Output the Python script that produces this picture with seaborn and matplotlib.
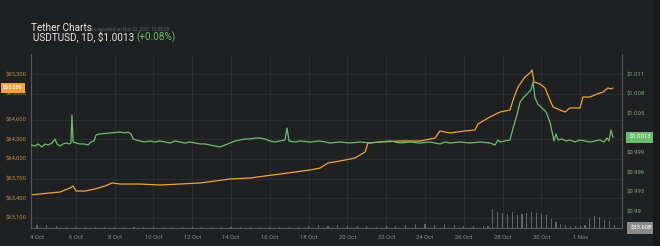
import matplotlib
matplotlib.use("Agg")
import matplotlib.pyplot as plt
import seaborn as sns
import pandas as pd
from matplotlib.patches import Rectangle

# ---------------- data ----------------
tick_days = [0, 2, 4, 6, 8, 10, 12, 14, 16, 18, 20, 22, 24, 26, 28]
tick_labels = ["4 Oct", "6 Oct", "8 Oct", "10 Oct", "12 Oct", "14 Oct", "16 Oct",
               "18 Oct", "20 Oct", "22 Oct", "24 Oct", "26 Oct", "28 Oct", "30 Oct", "1 Nov"]

left_ticks = [63100, 63400, 63700, 64000, 64300, 64600, 65000, 65300]
left_tick_labels = ["$63,100", "$63,400", "$63,700", "$64,000", "$64,300", "$64,600", "$65,000", "$65,300"]
right_ticks = [0.99, 0.993, 0.996, 0.999, 1.005, 1.008, 1.011]
right_tick_labels = ["$0.99", "$0.993", "$0.996", "$0.999", "$1.005", "$1.008", "$1.011"]

# price (green, right axis)
price_days = [
    -0.31, -0.10, 0.05, 0.26, 0.41, 0.57, 0.77, 0.93, 1.03, 1.19,
    1.34, 1.49, 1.65, 1.75, 1.80, 1.86, 2.01, 2.22, 2.42, 2.63,
    2.78, 2.94, 3.04, 3.25, 3.76, 4.28, 4.54, 4.69, 4.85, 4.95,
    5.10, 5.31, 5.57, 5.82, 6.08, 6.34, 6.60, 6.86, 7.11, 7.37,
    7.63, 7.89, 8.14, 8.40, 8.66, 8.92, 9.18, 9.43, 9.69, 9.95,
    10.21, 10.46, 10.72, 10.98, 11.24, 11.49, 11.75, 12.01, 12.27, 12.53,
    12.78, 12.89, 12.99, 13.30, 13.56, 14.07, 14.59, 15.10, 15.62, 16.13,
    16.65, 17.16, 17.68, 18.20, 18.71, 19.23, 19.74, 20.26, 20.77, 21.03,
    21.29, 21.80, 22.32, 22.84, 23.35, 23.61, 23.76, 23.87, 24.12, 24.38,
    24.54, 24.74, 24.90, 25.10, 25.31, 25.46, 25.57, 25.67, 25.82, 26.03,
    26.24, 26.44, 26.55, 26.65, 26.75, 26.86, 27.06, 27.27, 27.47, 27.73,
    27.99, 28.25, 28.51, 28.76, 29.02, 29.23, 29.38, 29.48, 29.59, 29.69,
]
price = [
    1.00013, 0.99998, 1.00029, 0.99983, 1.00029, 1.00013, 1.00044, 1.00105, 1.00029, 0.99998,
    1.00029, 1.00044, 1.00029, 1.00044, 1.00472, 1.00059, 1.00044, 1.00029, 1.00029, 1.00013,
    1.00059, 1.00075, 1.00166, 1.00182, 1.00197, 1.00212, 1.00197, 1.00212, 1.00182, 1.00105,
    1.00090, 1.00075, 1.00059, 1.00075, 1.00059, 1.00075, 1.00059, 1.00044, 1.00075, 1.00059,
    1.00044, 1.00059, 1.00044, 1.00029, 1.00029, 1.00013, 0.99998, 0.99983, 1.00013, 1.00044,
    1.00075, 1.00090, 1.00105, 1.00105, 1.00120, 1.00120, 1.00105, 1.00075, 1.00059, 1.00075,
    1.00090, 1.00273, 1.00075, 1.00059, 1.00075, 1.00059, 1.00075, 1.00044, 1.00059, 1.00044,
    1.00059, 1.00044, 1.00059, 1.00075, 1.00044, 1.00059, 1.00044, 1.00059, 1.00029, 1.00059,
    1.00044, 1.00059, 1.00044, 1.00059, 1.00044, 1.00013, 1.00090, 1.00059, 1.00075, 1.00090,
    1.00273, 1.00472, 1.00671, 1.00748, 1.00809, 1.00855, 1.00978, 1.00733, 1.00641, 1.00580,
    1.00518, 1.00365, 1.00212, 1.00075, 1.00182, 1.00090, 1.00105, 1.00075, 1.00090, 1.00059,
    1.00090, 1.00075, 1.00059, 1.00075, 1.00090, 1.00059, 1.00120, 1.00075, 1.00243, 1.00130,
]

# market value (orange, left axis)
cap_days = [
    -0.31, 0.15, 0.67, 1.19, 1.44, 1.70, 1.86, 2.01, 2.47, 2.99,
    3.51, 3.87, 4.28, 5.31, 6.34, 7.37, 8.40, 9.18, 9.95, 10.98,
    11.75, 12.53, 13.30, 14.07, 14.59, 15.00, 15.62, 16.39, 16.91, 17.06,
    17.68, 18.71, 19.74, 20.52, 20.77, 21.29, 22.06, 22.58, 22.73, 23.35,
    23.87, 24.38, 24.54, 24.79, 25.15, 25.41, 25.52, 25.62, 25.93, 26.19,
    26.44, 26.60, 26.96, 27.22, 27.47, 27.99, 28.14, 28.51, 28.87, 29.18,
    29.43, 29.59, 29.69,
]
cap = [
    63448, 63463, 63479, 63494, 63525, 63555, 63586, 63509, 63509, 63540,
    63586, 63632, 63616, 63616, 63601, 63616, 63632, 63662, 63693, 63708,
    63739, 63769, 63800, 63831, 63861, 63938, 63968, 64014, 64106, 64244,
    64259, 64274, 64274, 64320, 64428, 64397, 64428, 64443, 64535, 64642,
    64718, 64749, 64902, 65101, 65254, 65315, 65361, 65178, 65147, 65086,
    64902, 64795, 64749, 64718, 64780, 64780, 64948, 64948, 64994, 65024,
    65086, 65071, 65086,
]

# volume (grey bars, hidden axis)
vol_days = [
    0, 0.5, 1, 1.5, 2, 2.5, 3, 3.5, 4, 4.5, 5, 5.5, 6, 6.5, 7, 7.5, 8, 8.5, 9, 9.5,
    10, 10.5, 11, 11.5, 12, 12.5, 13, 13.5, 14, 14.5, 15, 15.5, 16, 16.5, 17, 17.5,
    18, 18.5, 19, 19.5, 20, 20.5, 21, 21.5, 22, 22.5,
    23, 23.25, 23.5, 23.75, 24, 24.25, 24.5, 24.75, 25, 25.25, 25.5, 25.75, 26, 26.25,
    26.5, 26.75, 27, 27.25, 27.5, 27.75, 28, 28.25, 28.5, 28.75, 29, 29.25, 29.5, 29.75,
]
volume = [
    5, 6, 4, 2, 1.5, 2, 2.5, 2, 1.5, 2, 2, 1.5, 2, 2.5, 2, 1.5, 2, 2, 1.5, 2,
    2.5, 2, 1.5, 2, 2, 2.5, 2, 2, 4, 5, 4, 5, 4, 3, 3, 2.5,
    3, 3, 6, 7, 8, 6, 7, 5, 3, 3,
    3, 4, 36, 30, 28, 26, 30, 25, 27, 29, 31, 28, 26, 24,
    18, 12, 8, 5, 4, 3, 4, 5, 18, 22, 20, 16, 14, 5,
]
volume_label = "$33.60B"
price_change = "(+0.08%)"

# ---------------- style ----------------
BG = "#1f2022"
GRID = "#2d2f32"
AXIS = "#55585c"
GREEN = "#6cbd6c"
ORANGE = "#f0a43a"

sns.set_theme(style="dark")
plt.rcParams["font.family"] = ["Roboto", "DejaVu Sans"]

fig = plt.figure(figsize=(6.6, 2.46), dpi=100, facecolor=BG)
ax = fig.add_axes([31 / 660, 1 - 228 / 246, (622 - 31) / 660, (228 - 54) / 246])
ax.set_facecolor(BG)
axv = ax.twinx()
axg = ax.twinx()

# darker strip on the far right
fig.patches.append(Rectangle((653 / 660, 0), 7 / 660, 1, transform=fig.transFigure,
                             facecolor="#18191b", edgecolor="none", zorder=0))

df_cap = pd.DataFrame({"day": cap_days, "value": cap})
df_price = pd.DataFrame({"day": price_days, "value": price})

sns.lineplot(data=df_cap, x="day", y="value", ax=ax, color=ORANGE, linewidth=0.9)
axv.bar(vol_days, volume, width=0.06, color="#a8a8a8", alpha=0.5, linewidth=0)
sns.lineplot(data=df_price, x="day", y="value", ax=axg, color=GREEN, linewidth=0.9)

xmin, xmax = -0.31, 30.155
for a in (ax, axv, axg):
    a.set_xlim(xmin, xmax)
    a.set_xlabel("")
    a.set_ylabel("")
    for s in a.spines.values():
        s.set_visible(False)

ax.set_ylim(62943, 65606)
axg.set_ylim(0.98743, 1.01406)
axv.set_ylim(0, 330)
axv.set_yticks([])

ax.set_xticks(tick_days)
ax.set_xticklabels(tick_labels)
ax.set_yticks(left_ticks)
ax.set_yticklabels(left_tick_labels)
axg.set_yticks(right_ticks)
axg.set_yticklabels(right_tick_labels)

ax.tick_params(axis="x", length=0, pad=5, labelsize=4.2, labelcolor="#8b8d90")
ax.tick_params(axis="y", length=0, pad=3, labelsize=4.2, labelcolor="#b88a3e")
axg.tick_params(axis="y", length=0, pad=3, labelsize=4.2, labelcolor="#7aa97a")
axg.tick_params(axis="x", length=0)

ax.grid(True, color=GRID, linewidth=0.6)
axg.grid(False)
axv.grid(False)

ax.spines["left"].set_visible(True)
ax.spines["left"].set_color(AXIS)
ax.spines["left"].set_linewidth(0.8)
ax.spines["bottom"].set_visible(True)
ax.spines["bottom"].set_color(AXIS)
ax.spines["bottom"].set_linewidth(0.8)
axg.spines["right"].set_visible(True)
axg.spines["right"].set_color(AXIS)
axg.spines["right"].set_linewidth(0.8)

# value boxes
ax.annotate(f"${cap[-1]:,.0f}", xy=(0, cap[-1]), xycoords=("axes fraction", "data"),
            xytext=(-13, 0), textcoords="offset points", ha="center", va="center",
            fontsize=4.0, color="white", annotation_clip=False,
            bbox=dict(boxstyle="square,pad=0.45", fc=ORANGE, ec="none"))
axg.annotate(f"${price[-1]:.4f}", xy=(1, price[-1]), xycoords=("axes fraction", "data"),
             xytext=(13, 0), textcoords="offset points", ha="center", va="center",
             fontsize=4.2, color="white", annotation_clip=False,
             bbox=dict(boxstyle="square,pad=0.5", fc=GREEN, ec="none"))
axg.annotate(volume_label, xy=(1, 0), xycoords="axes fraction",
             xytext=(14, 0), textcoords="offset points", ha="center", va="center",
             fontsize=4.2, color="white", annotation_clip=False,
             bbox=dict(boxstyle="square,pad=0.6", fc="#8a8b8d", ec="none"))

# titles
fig.text(31 / 660, 1 - 28 / 246, "Tether Charts", fontsize=7.2, color="#e8e8e8",
         ha="left", va="center")
fig.text(91 / 660, 1 - 29 / 246, "as reported on Nov 02, 2021 15:08:00", fontsize=3.4,
         color="#5f6164", ha="left", va="center")
t1 = fig.text(33 / 660, 1 - 37 / 246, f"USDTUSD, 1D, ${price[-1]:.4f} ", fontsize=7.2,
              color="#e8e8e8", ha="left", va="center")
fig.canvas.draw()
bb = t1.get_window_extent()
fig.text(bb.x1 / fig.bbox.width, 1 - 37 / 246, price_change, fontsize=7.2, color=GREEN,
         ha="left", va="center")

fig.savefig("out.png", dpi=100, facecolor=BG)
